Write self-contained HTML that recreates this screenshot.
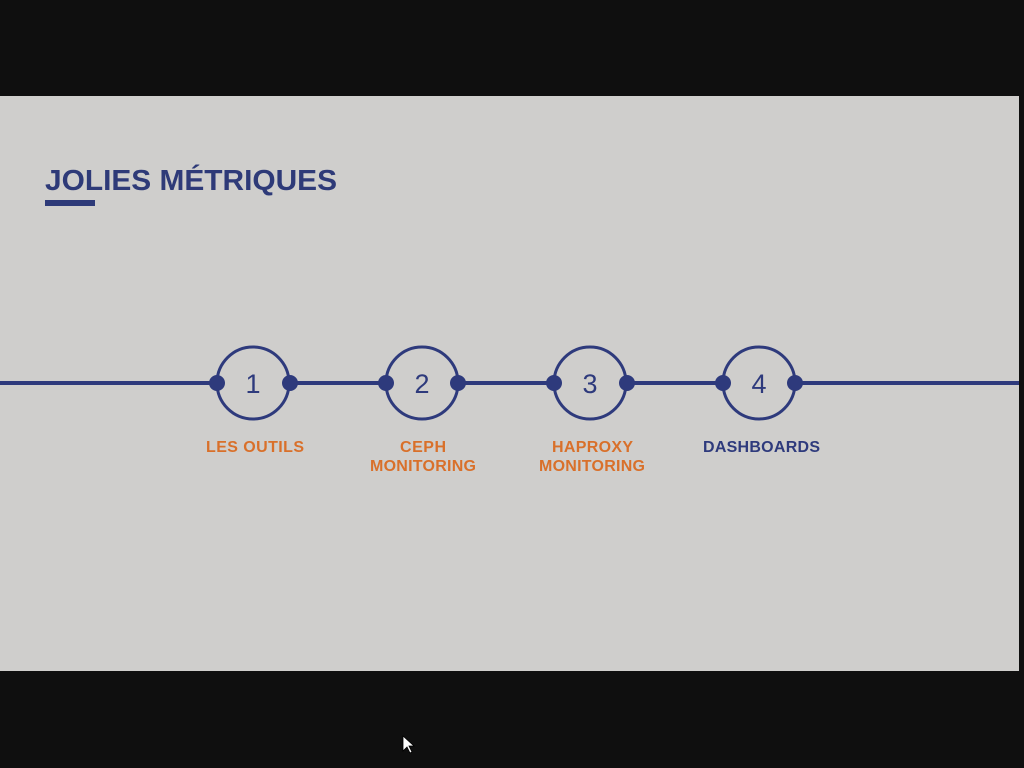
<!DOCTYPE html>
<html><head><meta charset="utf-8"><style>
html,body{margin:0;padding:0;width:1024px;height:768px;background:#0f0f0f;overflow:hidden;font-family:"Liberation Sans",Arial,sans-serif}
#s{position:absolute;left:0;top:96px;width:1019px;height:575px;background:#cfcecc}
</style></head><body>
<div id="s"></div>
<svg width="1024" height="768" style="position:absolute;left:0;top:0">
<text x="45" y="190" font-family="Liberation Sans, Arial, sans-serif" font-weight="bold" font-size="29" fill="#2e3a78" textLength="292" lengthAdjust="spacingAndGlyphs">JOLIES MÉTRIQUES</text>
<rect x="45" y="200" width="50" height="6" fill="#2e3a78"/>
<line x1="0" y1="383" x2="1019" y2="383" stroke="#2e3a7c" stroke-width="4"/>
<g fill="#cfcecc" stroke="#2e3a7c" stroke-width="3">
<circle cx="253" cy="383" r="36"/><circle cx="422" cy="383" r="36"/><circle cx="590" cy="383" r="36"/><circle cx="759" cy="383" r="36"/>
</g>
<g fill="#2e3a7c">
<circle cx="217" cy="383" r="8"/><circle cx="290" cy="383" r="8"/>
<circle cx="386" cy="383" r="8"/><circle cx="458" cy="383" r="8"/>
<circle cx="554" cy="383" r="8"/><circle cx="627" cy="383" r="8"/>
<circle cx="723" cy="383" r="8"/><circle cx="795" cy="383" r="8"/>
</g>
<g font-family="Liberation Sans, Arial, sans-serif" font-size="27" fill="#2e3a7c" text-anchor="middle">
<text x="253" y="393">1</text><text x="422" y="393">2</text><text x="590" y="393">3</text><text x="759" y="393">4</text>
</g>
<g font-family="Liberation Sans, Arial, sans-serif" font-weight="bold" font-size="16" fill="#d9702a" lengthAdjust="spacingAndGlyphs">
<text x="206" y="452" textLength="98">LES OUTILS</text>
<text x="400" y="452" textLength="46">CEPH</text><text x="370" y="471" textLength="106">MONITORING</text>
<text x="552" y="452" textLength="81">HAPROXY</text><text x="539" y="471" textLength="106">MONITORING</text>
<text x="703" y="452" textLength="117" fill="#2e3a7c">DASHBOARDS</text>
</g>
<path d="M403 736 L403 751 L407 747 L410 753 L412 752 L409 746 L414 746 Z" fill="#fff" stroke="#000" stroke-width="0.8"/>
</svg>
</body></html>
